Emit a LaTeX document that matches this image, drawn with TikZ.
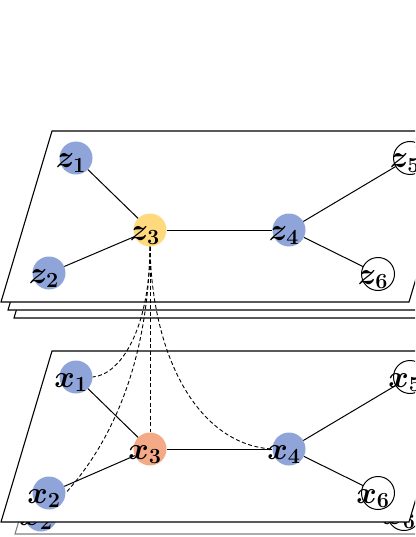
\documentclass[tikz,border=0pt]{standalone}
\usepackage{bm}

\definecolor{nodeblue}{HTML}{8FA5DA}
\definecolor{nodeyellow}{HTML}{FFD97E}
\definecolor{nodesalmon}{HTML}{F4A987}

\tikzset{
  vertex/.style={circle, inner sep=0pt, minimum size=33pt,
    font=\fontsize{24}{24}\selectfont},
  plane/.style={draw=black, line width=1.1pt, fill=white},
  edge/.style={line width=1pt},
  link/.style={dash pattern=on 4pt off 2.5pt, line width=0.9pt}
}
\newcommand{\vlab}[2]{\smash{\makebox[0pt]{\raisebox{-10pt}{\scalebox{1.25}{$\bm{#1}_{\bm{#2}}$}}\kern10pt}}}

\begin{document}
\begin{tikzpicture}[x=1pt, y=-1pt]
  \clip (0,0) rectangle (415,537);

  % Top stack
  \draw[plane] (14,318) -- (65,147) -- (473,147) -- (422,318) -- cycle;
  \draw[plane] (8,310) -- (59,139) -- (467,139) -- (416,310) -- cycle;
  \draw[plane] (1,302) -- (52,131) -- (460,131) -- (409,302) -- cycle;

  % Bottom stack
  \draw[plane, draw=gray] (15,534) -- (66,363) -- (474,363) -- (423,534) -- cycle;
  \node[vertex, fill=nodeblue] (gx2) at (41,515) {\vlab{x}{2}};
  \node[vertex, draw, fill=white, line width=1pt] (gx6) at (404,514) {\vlab{x}{6}};
  \draw[plane] (1,522) -- (52,351) -- (460,351) -- (409,522) -- cycle;

  % Graph on top
  \node[vertex, fill=nodeblue]   (z1) at (76,158)  {\vlab{z}{1}};
  \node[vertex, fill=nodeblue]   (z2) at (49,273)  {\vlab{z}{2}};
  \node[vertex, fill=nodeyellow] (z3) at (150,230) {\vlab{z}{3}};
  \node[vertex, fill=nodeblue]   (z4) at (289,230) {\vlab{z}{4}};
  \node[vertex, draw, fill=white, line width=1pt] (z5) at (410,158) {\vlab{z}{5}};
  \node[vertex, draw, fill=white, line width=1pt] (z6) at (378,274) {\vlab{z}{6}};

  \draw[edge] (z1) -- (z3);
  \draw[edge] (z2) -- (z3);
  \draw[edge] (z3) -- (z4);
  \draw[edge] (z4) -- (z5);
  \draw[edge] (z4) -- (z6);

  % Graph below
  \node[vertex, fill=nodeblue]   (x1) at (76,377)  {\vlab{x}{1}};
  \node[vertex, fill=nodeblue]   (x2) at (49,493)  {\vlab{x}{2}};
  \node[vertex, fill=nodesalmon] (x3) at (150,449) {\vlab{x}{3}};
  \node[vertex, fill=nodeblue]   (x4) at (289,449) {\vlab{x}{4}};
  \node[vertex, draw, fill=white, line width=1pt] (x5) at (410,377) {\vlab{x}{5}};
  \node[vertex, draw, fill=white, line width=1pt] (x6) at (378,493) {\vlab{x}{6}};

  \draw[edge] (x1) -- (x3);
  \draw[edge] (x2) -- (x3);
  \draw[edge] (x3) -- (x4);
  \draw[edge] (x4) -- (x5);
  \draw[edge] (x4) -- (x6);

  % Links between the layers
  \draw[link] (z3.south) .. controls (150,330) and (120,375) .. (x1.east);
  \draw[link] (z3.south) .. controls (148,380) and (100,455) .. (x2.east);
  \draw[link] (z3.south) -- (x3.north);
  \draw[link] (z3.south) .. controls (152,360) and (200,445) .. (x4.west);

\end{tikzpicture}
\end{document}
